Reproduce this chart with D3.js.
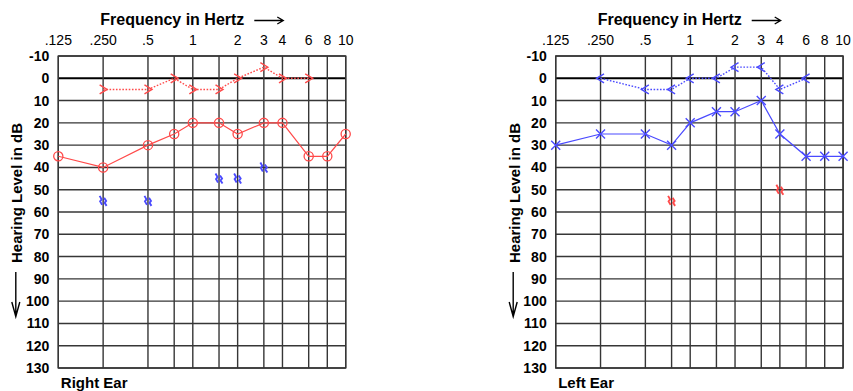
<!DOCTYPE html>
<html><head><meta charset="utf-8">
<script src="https://cdn.jsdelivr.net/npm/d3@7"></script>
<style>
body{margin:0;background:#fff}
text{font-family:"Liberation Sans",Arial,Helvetica,sans-serif;fill:#000}
</style>
</head><body>
<svg id="chart" width="853" height="391"></svg>
<script>
// ---------- data ----------
const freqs = [125,250,500,750,1000,1500,2000,3000,4000,6000,8000,10000];
const freqTickValues = [125,250,500,1000,2000,3000,4000,6000,8000,10000];
const freqTickLabels = [".125",".250",".5","1","2","3","4","6","8","10"];
const dbTicks = [-10,0,10,20,30,40,50,60,70,80,90,100,110,120,130];

// Right ear
const rightAirFreq = [125,250,500,750,1000,1500,2000,3000,4000,6000,8000,10000];
const rightAir     = [35,40,30,25,20,20,25,20,20,35,35,25];
const rightBoneFreq = [250,500,750,1000,1500,2000,3000,4000,6000];
const rightBone     = [5,5,0,5,5,0,-5,0,0];
const rightMaskFreq = [250,500,1500,2000,3000];
const rightMask     = [55,55,45,45,40];

// Left ear
const leftAirFreq = [125,250,500,750,1000,1500,2000,3000,4000,6000,8000,10000];
const leftAir     = [30,25,25,30,20,15,15,10,25,35,35,35];
const leftBoneFreq = [250,500,750,1000,1500,2000,3000,4000,6000];
const leftBone     = [0,5,5,0,0,-5,-5,5,0];
const leftMaskFreq = [750,4000];
const leftMask     = [55,50];

const RED = "#ff4a4a";
const BLUE = "#4a4aff";

// ---------- layout ----------
const svg = d3.select("#chart");
svg.append("rect").attr("width",853).attr("height",391).attr("fill","#fff");

const plotW = 287.4;
const x = d3.scaleLog().domain([125, 8000, 10000]).range([0, 269, plotW]);
const y = d3.scaleLinear().domain([-10, 130]).range([56, 368]);

function zip(fs, vs){ return fs.map((f,i)=>({f:f, v:vs[i]})); }

function panel(left, title, air, airType, airColor, bone, boneType, boneColor, mask, maskColor){
  const g = svg.append("g").attr("transform", `translate(${left},0)`);

  // horizontal grid
  g.selectAll("line.h").data(dbTicks).enter().append("line")
    .attr("x1",0).attr("x2",plotW)
    .attr("y1",d=>y(d)).attr("y2",d=>y(d))
    .attr("stroke", d=> d===0 ? "#000" : "#363636")
    .attr("stroke-width", d=> d===0 ? 2 : 1.4);
  // vertical grid
  g.selectAll("line.v").data(freqs).enter().append("line")
    .attr("x1",d=>x(d)).attr("x2",d=>x(d))
    .attr("y1",y(-10)).attr("y2",y(130))
    .attr("stroke","#363636").attr("stroke-width",1.4);
  g.append("rect").attr("x",0).attr("y",y(-10)).attr("width",plotW).attr("height",y(130)-y(-10))
    .attr("fill","none").attr("stroke","#363636").attr("stroke-width",1.4);

  // y labels
  g.selectAll("text.yl").data(dbTicks).enter().append("text")
    .attr("x",-9).attr("y",d=>y(d)).attr("dy","0.36em")
    .attr("text-anchor","end").attr("font-size",14).attr("font-weight","bold")
    .text(d=>d);
  // x labels
  g.selectAll("text.xl").data(freqTickValues).enter().append("text")
    .attr("x",d=>x(d)).attr("y",45)
    .attr("text-anchor","middle").attr("font-size",14)
    .text((d,i)=>freqTickLabels[i]);

  // title
  g.append("text").attr("x",42).attr("y",25).attr("font-size",16).attr("font-weight","bold")
    .text("Frequency in Hertz");
  g.append("path").attr("d","M196,20.5 H225 M219,17 L225,20.5 L219,24")
    .attr("fill","none").attr("stroke","#000").attr("stroke-width",1.3);

  // y title
  g.append("text")
    .attr("transform",`translate(-36,263) rotate(-90)`)
    .attr("font-size",15).attr("font-weight","bold")
    .text("Hearing Level in dB");
  g.append("path").attr("d","M-42.5,272 V316.5 M-46.5,302 L-42.5,316.5 L-38.5,302")
    .attr("fill","none").attr("stroke","#000").attr("stroke-width",1.4);

  // ear label
  g.append("text").attr("x",2.5).attr("y",387.5).attr("font-size",15).attr("font-weight","bold").text(title);

  // air conduction line
  const line = d3.line().x(d=>x(d.f)).y(d=>y(d.v));
  g.append("path").datum(air).attr("d",line).attr("fill","none")
    .attr("stroke",airColor).attr("stroke-width",1.2);
  if (airType === "circle") {
    g.selectAll("circle.m").data(air).enter().append("circle")
      .attr("cx",d=>x(d.f)).attr("cy",d=>y(d.v)).attr("r",4.6)
      .attr("fill","none").attr("stroke",airColor).attr("stroke-width",1.3);
  } else {
    g.selectAll("path.xm").data(air).enter().append("path")
      .attr("d",d=>{const cx=x(d.f), cy=y(d.v); return `M${cx-4.5},${cy-4.5}L${cx+4.5},${cy+4.5}M${cx-4.5},${cy+4.5}L${cx+4.5},${cy-4.5}`;})
      .attr("fill","none").attr("stroke",airColor).attr("stroke-width",1.4);
  }

  // bone conduction dotted line
  g.append("path").datum(bone).attr("d",line).attr("fill","none")
    .attr("stroke",boneColor).attr("stroke-width",1.4).attr("stroke-dasharray","1.6,1.6");
  g.selectAll("path.bm").data(bone).enter().append("path")
    .attr("d",d=>{
      const cx=x(d.f), cy=y(d.v);
      return boneType === ">"
        ? `M${cx-3.5},${cy-4.5}L${cx+4},${cy}L${cx-3.5},${cy+4.5}`
        : `M${cx+3.5},${cy-4.5}L${cx-4},${cy}L${cx+3.5},${cy+4.5}`;
    })
    .attr("fill","none").attr("stroke",boneColor).attr("stroke-width",1.4);

  // masked marks (small squiggle)
  g.selectAll("path.mm").data(mask).enter().append("path")
    .attr("d",d=>{
      const cx=x(d.f)+0.5, cy=y(d.v);
      return `M${cx-4},${cy-5}L${cx-2},${cy-1.5}L${cx-3.5},${cy+0.5}L${cx-1.5},${cy+4}` +
             `M${cx+0.5},${cy-3}L${cx+2.5},${cy}L${cx+1},${cy+2}L${cx+3},${cy+5}`;
    })
    .attr("fill","none").attr("stroke",maskColor).attr("stroke-width",1.9);
}

panel(58.3, "Right Ear", zip(rightAirFreq,rightAir), "circle", RED,
      zip(rightBoneFreq,rightBone), ">", RED, zip(rightMaskFreq,rightMask), BLUE);
panel(555.7, "Left Ear", zip(leftAirFreq,leftAir), "x", BLUE,
      zip(leftBoneFreq,leftBone), "<", BLUE, zip(leftMaskFreq,leftMask), RED);
</script>
</body></html>
